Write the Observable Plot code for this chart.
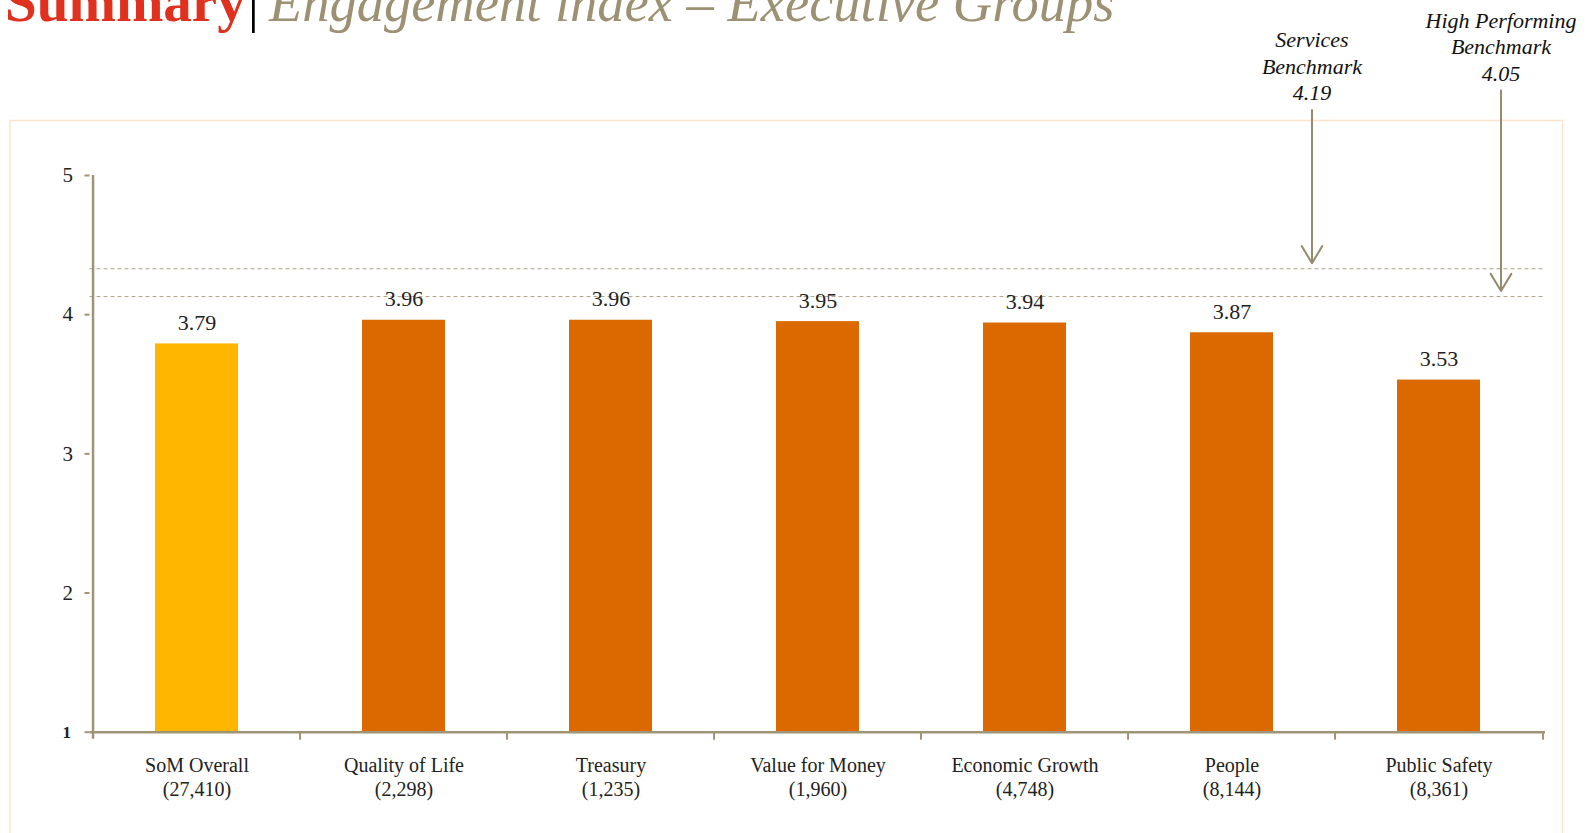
<!DOCTYPE html>
<html><head><meta charset="utf-8">
<script src="https://cdn.jsdelivr.net/npm/d3@7"></script>
<script src="https://cdn.jsdelivr.net/npm/@observablehq/plot@0.6"></script>
<style>
body{margin:0;background:#fff;overflow:hidden}
#wrap{position:relative;width:1594px;height:833px}
#title{position:absolute;left:5px;top:-26px;white-space:nowrap;font-family:"Liberation Serif",serif;line-height:56px;z-index:2}
#title .s{color:#E0301E;font-weight:bold;font-size:57px}
#title .bar{color:#000;font-size:56px;margin-left:2px}
#title .sub{color:#9d9173;font-style:italic;font-size:54.5px;margin-left:10px}
#chart{position:absolute;left:0;top:0}
</style></head><body>
<div id="wrap">
<div id="chart"></div>
<div id="title"><span class="s">Summary</span><span class="bar">|</span><span class="sub">Engagement index – Executive Groups</span></div>
</div>
<script>
const categories = ["SoM Overall","Quality of Life","Treasury","Value for Money","Economic Growth","People","Public Safety"];
const respondents = ["27,410","2,298","1,235","1,960","4,748","8,144","8,361"];
const scores = [3.79,3.96,3.96,3.95,3.94,3.87,3.53];
const barColors = ["#FFB600","#DC6900","#DC6900","#DC6900","#DC6900","#DC6900","#DC6900"];
const yTicks = [1,2,3,4,5];
const benchmarkNames = ["Services\nBenchmark","High Performing\nBenchmark"];
const benchmarkLabels = ["4.19","4.05"];
const benchmarkLineLevels = [4.33, 4.13];
const arrowStart = [5.47, 5.61];
const arrowTip = [4.37, 4.17];
const arrowCategory = ["People","Public Safety"];

const W = 1594, H = 833, mL = 89.5, mR = 49, mT = 175, mB = 101.3;
const step = (W - mL - mR) / categories.length;
const axisCol = "#9f9476";
const arrowCol = "#958b6f";
const arrowDx = [80, 62];

const data = categories.map((c, i) => ({cat: c, n: respondents[i], v: scores[i], color: barColors[i]}));
const bench = benchmarkNames.map((n, i) => ({name: n, label: benchmarkLabels[i], start: arrowStart[i], tip: arrowTip[i], cat: arrowCategory[i]}));

const benchMarks = bench.flatMap((b, i) => [
  Plot.arrow([b], {x1: "cat", x2: "cat", y1: "start", y2: "tip", dx: arrowDx[i], stroke: arrowCol, strokeWidth: 2, headLength: 15, headAngle: 62}),
  Plot.text([b], {x: "cat", y: "start", dx: arrowDx[i], dy: -10, text: d => d.name + "\n" + d.label, lineAnchor: "bottom", fontStyle: "italic", fontSize: 22, lineHeight: 1.2, fill: "#111"})
]);

const plot = Plot.plot({
  width: W, height: H, marginLeft: mL, marginRight: mR, marginTop: mT, marginBottom: mB,
  style: {fontFamily: "'Liberation Serif', serif", background: "transparent", overflow: "visible"},
  x: {type: "band", domain: categories, paddingInner: 0.6, paddingOuter: 0.3, axis: null},
  y: {domain: [1, 5], axis: null},
  color: {type: "identity"},
  marks: [
    Plot.frame({stroke: "#fde3cc", strokeWidth: 1.5, insetLeft: -80, insetTop: -55, insetRight: -17, insetBottom: -200}),
    Plot.ruleY(benchmarkLineLevels, {stroke: "#aca389", strokeWidth: 1, strokeDasharray: "4,3"}),
    Plot.barY(data, {x: "cat", y1: 1, y2: "v", fill: "color"}),
    Plot.text(data, {x: "cat", y: "v", text: d => d.v.toFixed(2), dy: -14, lineAnchor: "bottom", fontSize: 22, fill: "#222"}),
    Plot.ruleY([1], {stroke: axisCol, strokeWidth: 2.5}),
    Plot.ruleX([categories[0]], {y1: 5, y2: 1, insetBottom: -7, dx: -step / 2, stroke: axisCol, strokeWidth: 2.5}),
    Plot.ruleX(categories.slice(1), {y1: 1, y2: 1, insetBottom: -8, dx: -step / 2, stroke: axisCol, strokeWidth: 2}),
    Plot.ruleX([categories[categories.length - 1]], {y1: 1, y2: 1, insetBottom: -8, dx: step / 2, stroke: axisCol, strokeWidth: 2}),
    Plot.axisY({ticks: yTicks.slice(1), tickFormat: "d", tickSize: 5, tickPadding: 12, stroke: axisCol, strokeWidth: 2, fill: "#222", fontSize: 21, label: null}),
    Plot.axisY({ticks: yTicks.slice(0, 1), tickFormat: "d", tickSize: 5, tickPadding: 14, stroke: axisCol, strokeWidth: 2, fill: "#222", fontSize: 17, fontWeight: "bold", label: null}),
    Plot.text(data, {x: "cat", y: 1, text: d => `${d.cat}\n(${d.n})`, lineAnchor: "top", dy: 22, fontSize: 20, lineHeight: 1.22, fill: "#222"}),
    ...benchMarks
  ]
});
document.getElementById("chart").appendChild(plot);
</script>
</body></html>
